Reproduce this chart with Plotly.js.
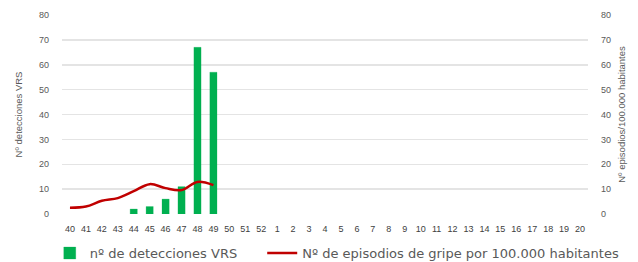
<!DOCTYPE html>
<html>
<head>
<meta charset="utf-8">
<script src="https://cdn.plot.ly/plotly-3.0.1.min.js"></script>
<style>html,body{margin:0;padding:0;background:#fff;}#chart{width:638px;height:262px;}</style>
</head>
<body>
<div id="chart"></div>
<script>
const weeks = ["40","41","42","43","44","45","46","47","48","49","50","51","52","1","2","3","4","5","6","7","8","9","10","11","12","13","14","15","16","17","18","19","20"];
const vrsDetections = [null,null,null,null,2,3,6,11,67,57];
const fluRate = [2.5,3,5.3,6.4,9.2,12,10.4,9.6,12.9,11.6];
const vrsLabel = "nº de detecciones VRS";
const fluLabel = "Nº de episodios de gripe por 100.000 habitantes";

const fam = "Liberation Sans, Arial, sans-serif";
const legFont = {family: "DejaVu Sans, sans-serif", size: 13, color: "#595959"};
const tickFont = {family: fam, size: 9, color: "#595959"};
const traces = [
  {type: "bar", x: weeks.slice(0, vrsDetections.length), y: vrsDetections, name: vrsLabel,
   marker: {color: "#00B050", line: {color: "rgba(0,176,80,0.25)", width: 1}}, yaxis: "y", legend: "legend"},
  {type: "scatter", mode: "lines", x: weeks.slice(0, fluRate.length), y: fluRate, name: fluLabel,
   line: {color: "#C00000", width: 2.5, shape: "spline"}, yaxis: "y2", legend: "legend2"}
];
const layout = {
  width: 638, height: 262,
  margin: {l: 62, r: 50, t: 15, b: 48},
  paper_bgcolor: "#fff", plot_bgcolor: "#fff",
  bargap: 0.55,
  showlegend: true,
  legend: {orientation: "h", xref: "container", yref: "container", x: 0.078, xanchor: "left",
           y: 0.034, yanchor: "middle", font: legFont, itemwidth: 30},
  legend2: {orientation: "h", xref: "container", yref: "container", x: 0.411, xanchor: "left",
           y: 0.034, yanchor: "middle", font: legFont, itemwidth: 30},
  xaxis: {type: "category", categoryorder: "array", categoryarray: weeks, range: [-0.5, 32.5],
          tickfont: {family: fam, size: 9, color: "#404040"}, showgrid: false, showline: false, ticks: "",
          zeroline: false, tickangle: 0, ticklabelstandoff: 8},
  yaxis: {range: [0, 80], dtick: 10, tickfont: tickFont, gridcolor: "#E4E4E4", gridwidth: 1.5,
          zeroline: false, showline: false, ticks: "", ticklabelstandoff: 12,
          title: {text: "Nº detecciones VRS", font: {family: fam, size: 9.5, color: "#595959"}, standoff: 14}},
  yaxis2: {range: [0, 80], dtick: 10, overlaying: "y", side: "right", tickfont: tickFont,
           showgrid: false, zeroline: false, showline: false, ticks: "", ticklabelstandoff: 12,
           title: {text: "Nº episodios/100.000 habitantes", font: {family: fam, size: 9.5, color: "#595959"}, standoff: 8}}
};
Plotly.newPlot("chart", traces, layout, {displayModeBar: false, staticPlot: true});
</script>
</body>
</html>
